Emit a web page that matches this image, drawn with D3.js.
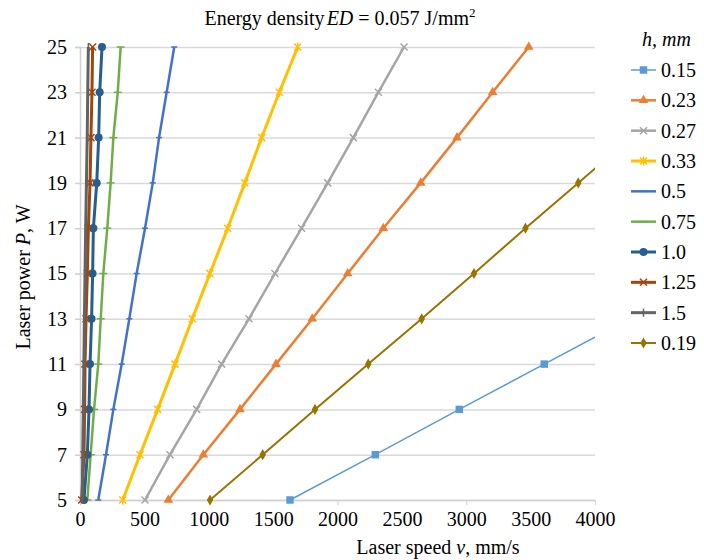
<!DOCTYPE html>
<html>
<head>
<meta charset="utf-8">
<script src="https://cdn.jsdelivr.net/npm/d3@7"></script>
<style>
  body { margin: 0; background: #fff; }
  svg text { font-family: "Liberation Serif", "Times New Roman", serif; fill: #000; }
</style>
</head>
<body>
<script>
// laser power levels (W) and speeds (mm/s)
var powerLevels = [5, 7, 9, 11, 13, 15, 17, 19, 21, 23, 25];
var hLabels = ['0.15', '0.23', '0.27', '0.33', '0.5', '0.75', '1.0', '1.25', '1.5', '0.19'];

var speed015 = [1631, 2294, 2946, 3606, 4270];
var speed023 = [686, 958, 1243, 1522, 1804, 2079, 2356, 2646, 2928, 3205, 3485];
var speed027 = [505, 699, 906, 1100, 1312, 1514, 1721, 1924, 2123, 2317, 2517];
var speed033 = [332, 466, 603, 738, 872, 1009, 1147, 1280, 1411, 1548, 1691];
var speed05  = [142, 202, 259, 324, 383, 440, 505, 565, 614, 673, 732];
var speed075 = [57, 83, 109, 142, 161, 181, 212, 238, 259, 293, 316];
var speed10  = [31, 57, 70, 78, 90, 98, 104, 130, 145, 153, 171];
var speed125 = [13, 31, 36, 39, 47, 57, 65, 78, 85, 93, 98];
var speed15  = [18, 21, 26, 30, 34, 39, 44, 50, 56, 60, 65];
var speed019 = [1010, 1419, 1825, 2239, 2654, 3060, 3460, 3870, 4280];

var xLabelTicks = [0, 500, 1000, 1500, 2000, 2500, 3000, 3500, 4000];
var xMarkTicks = [0, 1000, 2000, 3000, 4000];
var yTicks = [5, 7, 9, 11, 13, 15, 17, 19, 21, 23, 25];

var allSpeeds = [speed015, speed023, speed027, speed033, speed05, speed075, speed10, speed125, speed15, speed019];

// look of each series, same order as hLabels
var looks = [
  {color: '#5B9BD5', width: 1.5, marker: 'square'},
  {color: '#ED7D31', width: 2.5, marker: 'triangle'},
  {color: '#A5A5A5', width: 2.5, marker: 'cross'},
  {color: '#FFC000', width: 3,   marker: 'star'},
  {color: '#4472C4', width: 2.5, marker: 'dash'},
  {color: '#70AD47', width: 2.5, marker: 'dashwide'},
  {color: '#255E91', width: 3,   marker: 'circle'},
  {color: '#9E480E', width: 3,   marker: 'cross'},
  {color: '#636363', width: 3,   marker: 'vbar'},
  {color: '#997300', width: 2,   marker: 'diamond'}
];

var serif = '"Liberation Serif", "Times New Roman", serif';
var fontSize = '20px';
var chart = {left: 80, right: 595, top: 47, bottom: 500};

var svg = d3.select('body').append('svg')
    .attr('width', 704)
    .attr('height', 560);

var x = d3.scaleLinear().domain([0, 4000]).range([chart.left, chart.right]);
var y = d3.scaleLinear().domain([5, 25]).range([chart.bottom, chart.top]);

svg.append('clipPath').attr('id', 'plotclip')
  .append('rect')
    .attr('x', chart.left - 10)
    .attr('y', chart.top - 10)
    .attr('width', chart.right - chart.left + 10)
    .attr('height', chart.bottom - chart.top + 20);

// horizontal gridlines
svg.append('g')
    .attr('class', 'grid')
    .attr('transform', 'translate(' + (chart.left - 5) + ',0)')
    .call(d3.axisRight(y).tickValues(yTicks).tickSize(chart.right - chart.left + 5).tickFormat(''))
    .call(function(g) { g.select('.domain').remove(); })
    .selectAll('line')
      .attr('stroke', '#d9d9d9')
      .attr('stroke-width', 1.5);

// y axis
var yAxis = svg.append('g')
    .attr('transform', 'translate(' + chart.left + ',0)')
    .call(d3.axisLeft(y).tickValues(yTicks).tickSize(5).tickPadding(8));
yAxis.attr('font-family', serif);
yAxis.select('.domain').attr('stroke', '#d0d0d0').attr('stroke-width', 1.5);
yAxis.selectAll('line').attr('stroke', '#d0d0d0');
yAxis.selectAll('text').style('font-size', fontSize).style('font-family', serif);

// x axis: labels every 500, tick marks every 1000
var xAxis = svg.append('g')
    .attr('transform', 'translate(0,' + chart.bottom + ')')
    .call(d3.axisBottom(x).tickValues(xLabelTicks).tickSize(0).tickPadding(12).tickFormat(d3.format('d')));
xAxis.attr('font-family', serif);
xAxis.select('.domain').attr('stroke', '#d0d0d0').attr('stroke-width', 1.5);
xAxis.selectAll('text').style('font-size', fontSize).style('font-family', serif);

svg.append('g')
    .attr('transform', 'translate(0,' + chart.bottom + ')')
    .call(d3.axisBottom(x).tickValues(xMarkTicks).tickSize(5).tickFormat(''))
    .call(function(g) { g.select('.domain').remove(); })
    .selectAll('line').attr('stroke', '#d0d0d0');

// marker shapes
function markerPath(kind) {
  if (kind == 'square') return d3.symbol(d3.symbolSquare, 56)();
  if (kind == 'triangle') return d3.symbol(d3.symbolTriangle, 40)();
  if (kind == 'diamond') return d3.symbol(d3.symbolDiamond, 36)();
  if (kind == 'circle') return d3.symbol(d3.symbolCircle, 50)();
  if (kind == 'cross') return 'M-3.5,-3.5L3.5,3.5M-3.5,3.5L3.5,-3.5';
  if (kind == 'star') return 'M-3.5,-3.5L3.5,3.5M-3.5,3.5L3.5,-3.5M0,-4.5L0,4.5';
  if (kind == 'dash') return 'M-3,0L3,0';
  if (kind == 'dashwide') return 'M-4,0L4,0';
  if (kind == 'vbar') return 'M0,-4L0,4';
}
function isFilled(kind) {
  return kind == 'square' || kind == 'triangle' || kind == 'diamond' || kind == 'circle';
}

var line = d3.line()
    .x(function(d) { return x(d.v); })
    .y(function(d) { return y(d.p); });

var plot = svg.append('g').attr('clip-path', 'url(#plotclip)');

allSpeeds.forEach(function(speeds, i) {
  var look = looks[i];
  var pts = speeds.map(function(v, j) { return {v: v, p: powerLevels[j]}; });
  var s = plot.append('g').attr('class', 'series');

  s.append('path')
      .datum(pts)
      .attr('d', line)
      .attr('fill', 'none')
      .attr('stroke', look.color)
      .attr('stroke-width', look.width)
      .attr('stroke-linejoin', 'round');

  s.selectAll('path.mark')
      .data(pts)
    .enter().append('path')
      .attr('class', 'mark')
      .attr('transform', function(d) { return 'translate(' + x(d.v) + ',' + y(d.p) + ')'; })
      .attr('d', markerPath(look.marker))
      .attr('fill', isFilled(look.marker) ? look.color : 'none')
      .attr('stroke', look.color)
      .attr('stroke-width', isFilled(look.marker) ? 0 : 1.5);
});

// title
var title = svg.append('text')
    .attr('x', 340)
    .attr('y', 25)
    .attr('text-anchor', 'middle')
    .style('font-family', serif)
    .style('font-size', fontSize);
title.append('tspan').text('Energy density');
title.append('tspan').attr('dx', 2).style('font-style', 'italic').text('ED');
title.append('tspan').text(' = 0.057 J/mm');
title.append('tspan').attr('dy', -8).style('font-size', '13px').text('2');

// axis titles
var xTitle = svg.append('text')
    .attr('x', 438)
    .attr('y', 554)
    .attr('text-anchor', 'middle')
    .style('font-family', serif)
    .style('font-size', fontSize);
xTitle.append('tspan').text('Laser speed ');
xTitle.append('tspan').style('font-style', 'italic').text('v');
xTitle.append('tspan').text(', mm/s');

var yTitle = svg.append('text')
    .attr('transform', 'translate(30,277) rotate(-90)')
    .attr('text-anchor', 'middle')
    .style('font-family', serif)
    .style('font-size', fontSize);
yTitle.append('tspan').text('Laser power ');
yTitle.append('tspan').style('font-style', 'italic').text('P');
yTitle.append('tspan').text(', W');

// legend
var legend = svg.append('g').attr('class', 'legend');
legend.append('text')
    .attr('x', 642)
    .attr('y', 46)
    .style('font-family', serif)
    .style('font-size', fontSize)
    .style('font-style', 'italic')
    .text('h, mm');

var legendY = d3.scalePoint().domain(hLabels).range([70, 343]);

var item = legend.selectAll('g.item')
    .data(hLabels)
  .enter().append('g')
    .attr('class', 'item')
    .attr('transform', function(d) { return 'translate(0,' + legendY(d) + ')'; });

item.append('line')
    .attr('x1', 631).attr('x2', 656)
    .attr('stroke', function(d, i) { return looks[i].color; })
    .attr('stroke-width', function(d, i) { return looks[i].width; });

item.append('path')
    .attr('transform', 'translate(643.5,0)')
    .attr('d', function(d, i) { return markerPath(looks[i].marker); })
    .attr('fill', function(d, i) { return isFilled(looks[i].marker) ? looks[i].color : 'none'; })
    .attr('stroke', function(d, i) { return looks[i].color; })
    .attr('stroke-width', function(d, i) { return isFilled(looks[i].marker) ? 0 : 1.5; });

item.append('text')
    .attr('x', 661)
    .attr('dy', '0.35em')
    .style('font-family', serif)
    .style('font-size', fontSize)
    .text(function(d) { return d; });
</script>
</body>
</html>
